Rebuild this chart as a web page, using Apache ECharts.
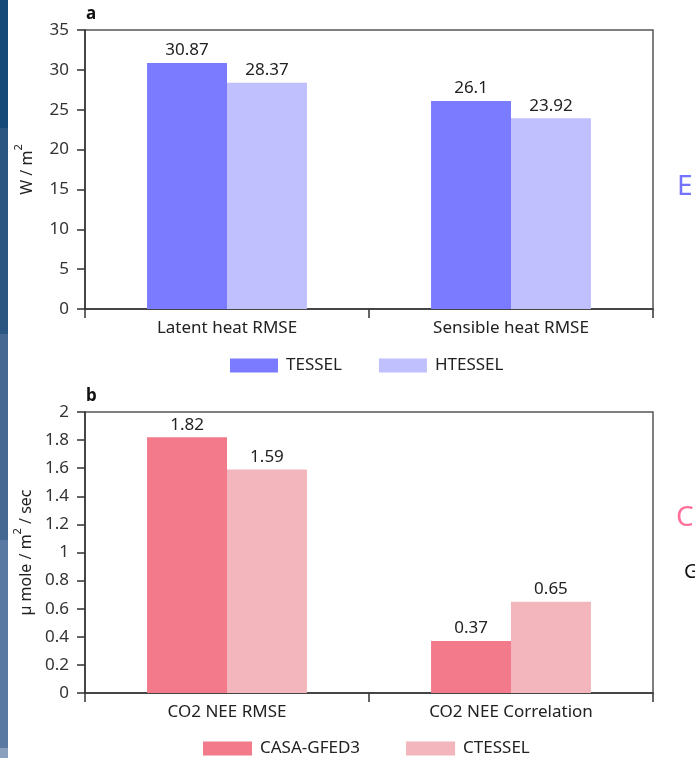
<!DOCTYPE html>
<html>
<head>
<meta charset="utf-8">
<script src="https://cdn.jsdelivr.net/npm/echarts@6/dist/echarts.min.js"></script>
<style>
html,body{margin:0;padding:0;background:#fff;}
#chart{width:695px;height:758px;}
</style>
</head>
<body>
<div id="chart"></div>
<script>
// ---- data ----
var categoriesA = ['Latent heat RMSE', 'Sensible heat RMSE'];
var tesselValues = [30.87, 26.1];
var htesselValues = [28.37, 23.92];
var categoriesB = ['CO2 NEE RMSE', 'CO2 NEE Correlation'];
var casaValues = [1.82, 0.37];
var ctesselValues = [1.59, 0.65];
var seriesNamesA = ['TESSEL', 'HTESSEL'];
var seriesNamesB = ['CASA-GFED3', 'CTESSEL'];

var FONT = 'Noto Sans';
var FS = 17;
var chart = echarts.init(document.getElementById('chart'), null, {renderer: 'canvas'});

var nameRich = {
  t: {fontSize: 16, fontFamily: FONT, color: '#222', lineHeight: 22, verticalAlign: 'bottom'},
  s: {fontSize: 11, fontFamily: FONT, color: '#222', lineHeight: 22, verticalAlign: 'top'}
};

function xAxisCfg(cats, gridIndex) {
  return {
    type: 'category', gridIndex: gridIndex, data: cats,
    axisLine: {lineStyle: {color: '#333', width: 1.5}},
    axisTick: {show: true, alignWithLabel: false, length: 9, lineStyle: {color: '#333', width: 1.5}},
    axisLabel: {color: '#222', fontSize: FS, fontFamily: FONT, margin: 11}
  };
}
function yAxisCfg(gridIndex, max, interval, name) {
  return {
    type: 'value', gridIndex: gridIndex, min: 0, max: max, interval: interval,
    name: name, nameLocation: 'middle', nameGap: 50,
    nameTextStyle: {color: '#222', fontSize: 16, fontFamily: FONT, rich: nameRich},
    axisLine: {show: true, lineStyle: {color: '#333', width: 1.5}},
    axisTick: {show: true, length: 8, lineStyle: {color: '#333', width: 1.5}},
    splitLine: {show: false},
    axisLabel: {color: '#333', fontSize: FS, fontFamily: FONT, margin: 16}
  };
}
function barSeries(name, data, color, xi, yi) {
  return {
    type: 'bar', name: name, data: data, xAxisIndex: xi, yAxisIndex: yi,
    barGap: '0%', barCategoryGap: '43.7%',
    itemStyle: {color: color},
    label: {show: true, position: 'top', distance: 4, color: '#222', fontSize: FS, fontFamily: FONT},
    emphasis: {disabled: true}
  };
}

var strip = [
  [0, 128, '#154a78'], [128, 206, '#2c5682'], [334, 206, '#456892'],
  [540, 208, '#5a79a2'], [748, 10, '#8aa0bd']
];
var graphics = strip.map(function (s) {
  return {type: 'rect', left: 0, top: s[0], shape: {width: 8, height: s[1]}, style: {fill: s[2]}, silent: true};
});
graphics.push(
  {type: 'text', left: 86, top: 6, style: {text: 'a', font: 'bold 17px "Noto Sans"', fill: '#111'}},
  {type: 'text', left: 86, top: 388, style: {text: 'b', font: 'bold 17px "Noto Sans"', fill: '#111'}},
  {type: 'text', left: 677, top: 173, style: {text: 'E', font: '28px "Noto Sans"', fill: '#7373ff'}},
  {type: 'text', left: 676, top: 504, style: {text: 'C', font: '28px "Noto Sans"', fill: '#ff709a'}},
  {type: 'text', left: 684, top: 562, style: {text: 'G', font: '20px "Noto Sans"', fill: '#111'}}
);

chart.setOption({
  animation: false,
  backgroundColor: '#fff',
  textStyle: {fontFamily: FONT},
  grid: [
    {left: 85, top: 30, right: 42, height: 279, show: true, borderColor: '#555', borderWidth: 1.5, backgroundColor: 'transparent'},
    {left: 85, top: 412, right: 42, height: 281, show: true, borderColor: '#555', borderWidth: 1.5, backgroundColor: 'transparent'}
  ],
  legend: [
    {data: seriesNamesA, left: 230, top: 357, padding: 0, itemWidth: 48, itemHeight: 14, itemGap: 37, icon: 'rect',
     textStyle: {color: '#222', fontSize: FS, fontFamily: FONT, padding: [0, 0, 0, 3]}},
    {data: seriesNamesB, left: 203, top: 740, padding: 0, itemWidth: 49, itemHeight: 14, itemGap: 46, icon: 'rect',
     textStyle: {color: '#222', fontSize: FS, fontFamily: FONT, padding: [0, 0, 0, 3]}}
  ],
  xAxis: [xAxisCfg(categoriesA, 0), xAxisCfg(categoriesB, 1)],
  yAxis: [yAxisCfg(0, 35, 5, '{t|W / m}{s|2}'), yAxisCfg(1, 2, 0.2, '{t|µ mole / m}{s|2}{t| / sec}')],
  series: [
    barSeries(seriesNamesA[0], tesselValues, '#7b7bff', 0, 0),
    barSeries(seriesNamesA[1], htesselValues, '#c0c0ff', 0, 0),
    barSeries(seriesNamesB[0], casaValues, '#f27a8b', 1, 1),
    barSeries(seriesNamesB[1], ctesselValues, '#f2b6bc', 1, 1)
  ],
  graphic: graphics
});
</script>
</body>
</html>
